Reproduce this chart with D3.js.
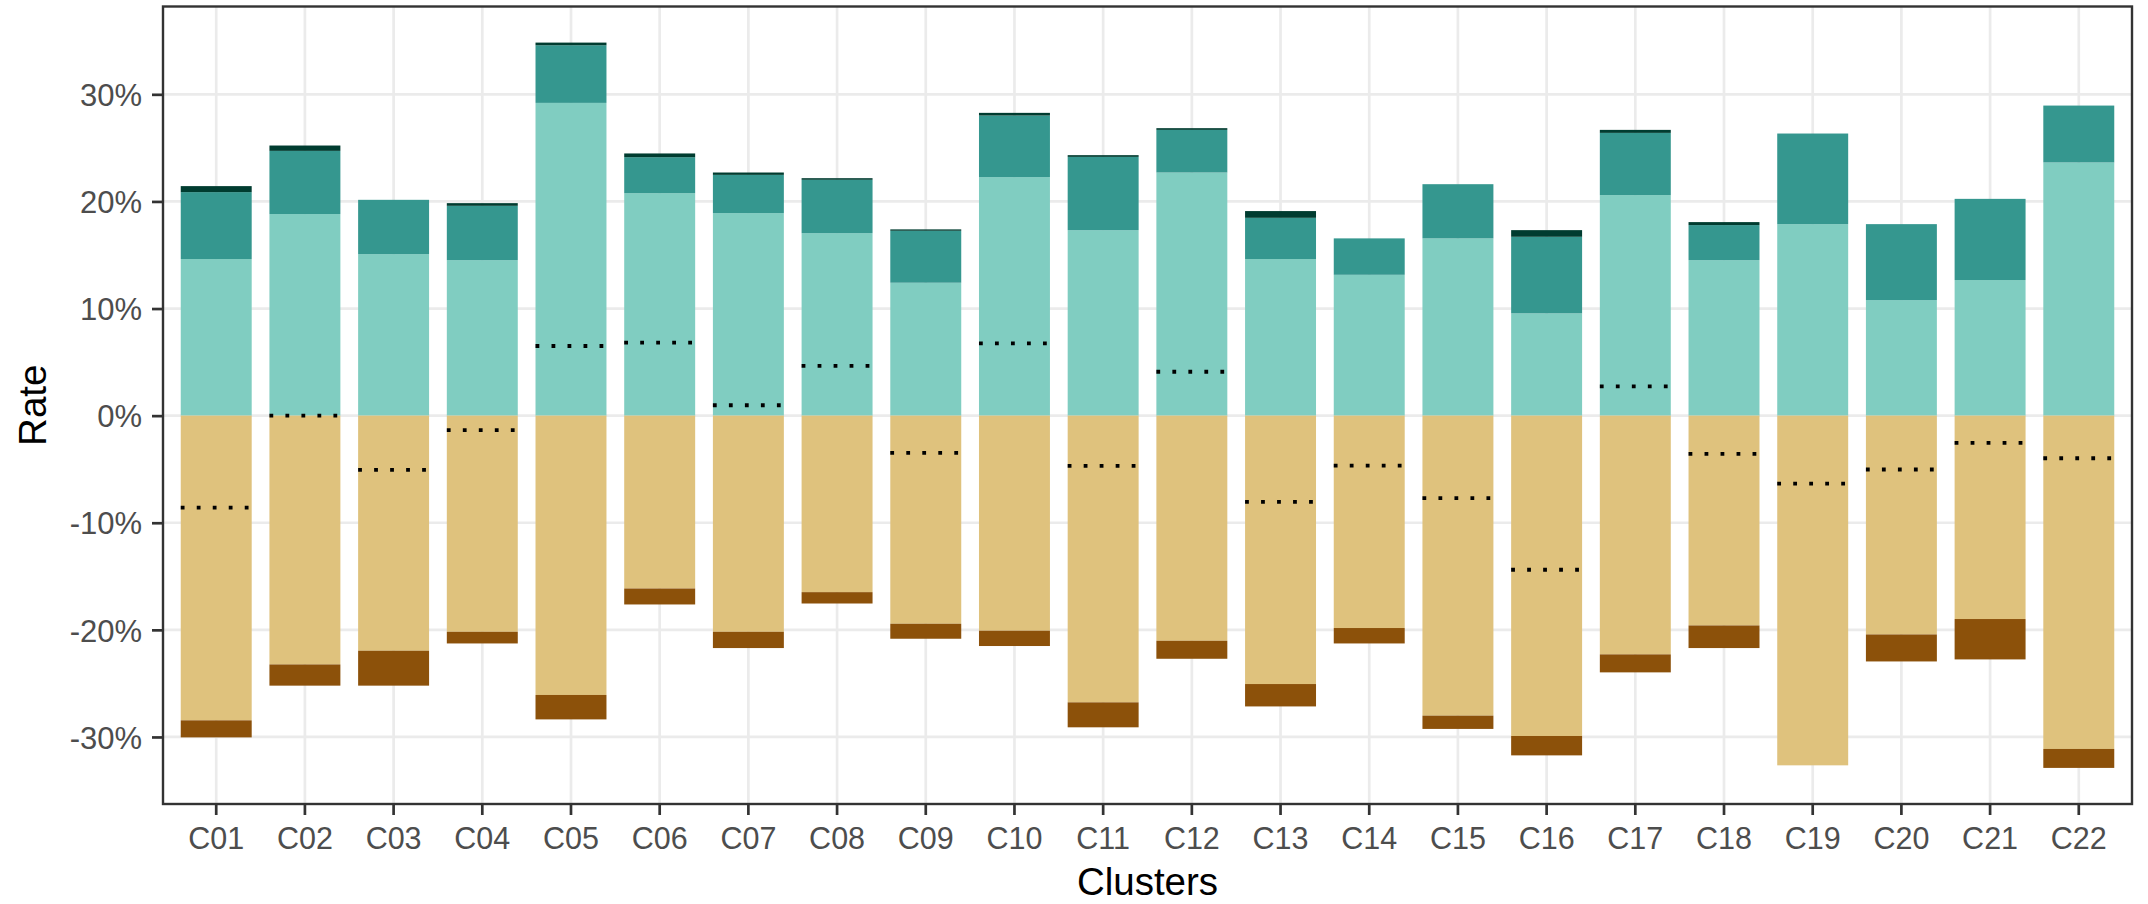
<!DOCTYPE html>
<html>
<head>
<meta charset="utf-8">
<script src="https://cdn.jsdelivr.net/npm/d3@7"></script>
<style>
  html, body { margin: 0; padding: 0; background: #ffffff; }
  svg { display: block; }
</style>
</head>
<body>
<svg id="chart" width="2148" height="904"></svg>
<script>
// ---- data (percent) ----
const clusters = ["C01","C02","C03","C04","C05","C06","C07","C08","C09","C10","C11",
                  "C12","C13","C14","C15","C16","C17","C18","C19","C20","C21","C22"];
const posLight = [14.62,18.82,15.08,14.52,29.20,20.77,18.91,17.04,12.41,22.27,17.32,
                  22.70,14.62,13.15,16.55, 9.55,20.59,14.52,17.88,10.79,12.66,23.64];
const posMid   = [ 6.25, 5.90, 5.07, 5.07, 5.38, 3.36, 3.57, 4.98, 4.85, 5.75, 6.84,
                   3.98, 3.85, 3.40, 5.06, 7.15, 5.81, 3.27, 8.46, 7.09, 7.58, 5.31];
const posDark  = [ 0.56, 0.50, 0.00, 0.25, 0.25, 0.35, 0.22, 0.15, 0.13, 0.25, 0.16,
                   0.16, 0.63, 0.00, 0.00, 0.62, 0.28, 0.28, 0.00, 0.00, 0.00, 0.00];
const negLight = [-28.45,-23.23,-21.95,-20.18,-26.08,-16.14,-20.18,-16.48,-19.43,-20.08,-26.77,
                  -21.02,-25.06,-19.83,-28.01,-29.91,-22.29,-19.59,-32.65,-20.43,-18.99,-31.12];
const negDark  = [ -1.59, -1.98, -3.26, -1.09, -2.28, -1.49, -1.52, -1.06, -1.40, -1.43, -2.33,
                   -1.68, -2.09, -1.44, -1.24, -1.81, -1.68, -2.11,  0.00, -2.52, -3.77, -1.77];
const refLine  = [ -8.58,  0.00, -5.07, -1.36,  6.50,  6.81,  0.97,  4.64, -3.48,  6.75, -4.69,
                    4.10, -8.05, -4.66, -7.71,-14.39,  2.74, -3.57, -6.34, -5.03, -2.55, -3.98];
const yTicks = [-30, -20, -10, 0, 10, 20, 30];
const yTickLabels = ["-30%","-20%","-10%","0%","10%","20%","30%"];

// ---- layout ----
const svg = d3.select("#chart");
const panel = {left: 163, right: 2132, top: 6.5, bottom: 804};
const x = d3.scaleBand().domain(clusters).range([panel.left, panel.right])
  .paddingInner(0.2).paddingOuter(0.2);
const y = d3.scaleLinear().domain([-36.26, 38.2]).range([panel.bottom, panel.top]);

const rows = clusters.map((c, i) => ({
  cluster: c, posLight: posLight[i], posMid: posMid[i], posDark: posDark[i],
  negLight: negLight[i], negDark: negDark[i], ref: refLine[i]
}));
const posKeys = ["posLight", "posMid", "posDark"];
const negKeys = ["negLight", "negDark"];
const colors = {posLight: "#80CDC1", posMid: "#35978F", posDark: "#003C30",
                negLight: "#DFC27D", negDark: "#8C510A"};

const stack = d3.stack().keys(posKeys.concat(negKeys)).offset(d3.stackOffsetDiverging);
const series = stack(rows);

// grid
const grid = svg.append("g");
grid.selectAll("line.h").data(yTicks).join("line")
  .attr("x1", panel.left).attr("x2", panel.right)
  .attr("y1", d => y(d)).attr("y2", d => y(d))
  .attr("stroke", "#EBEBEB").attr("stroke-width", 2.7);
grid.selectAll("line.v").data(clusters).join("line")
  .attr("x1", d => x(d) + x.bandwidth() / 2).attr("x2", d => x(d) + x.bandwidth() / 2)
  .attr("y1", panel.top).attr("y2", panel.bottom)
  .attr("stroke", "#EBEBEB").attr("stroke-width", 2.7);

// bars
const barG = svg.append("g");
series.forEach(s => {
  barG.append("g").attr("fill", colors[s.key])
    .selectAll("rect").data(s).join("rect")
    .attr("x", d => x(d.data.cluster))
    .attr("width", x.bandwidth())
    .attr("y", d => y(Math.max(d[0], d[1])))
    .attr("height", d => Math.abs(y(d[0]) - y(d[1])));
});

// dotted reference lines
svg.append("g").selectAll("line").data(rows).join("line")
  .attr("x1", d => x(d.cluster)).attr("x2", d => x(d.cluster) + x.bandwidth())
  .attr("y1", d => y(d.ref)).attr("y2", d => y(d.ref))
  .attr("stroke", "#000").attr("stroke-width", 3.8)
  .attr("stroke-dasharray", "3.8 12.2");

// panel border
svg.append("rect")
  .attr("x", panel.left).attr("y", panel.top)
  .attr("width", panel.right - panel.left).attr("height", panel.bottom - panel.top)
  .attr("fill", "none").attr("stroke", "#333333").attr("stroke-width", 2.4);

// axes
const yAxis = d3.axisLeft(y).tickValues(yTicks)
  .tickFormat((d, i) => yTickLabels[i]).tickSize(11).tickPadding(10);
const gy = svg.append("g").attr("transform", `translate(${panel.left},0)`).call(yAxis);
gy.select(".domain").remove();
gy.selectAll(".tick line").attr("stroke", "#333333").attr("stroke-width", 2.7);
gy.selectAll(".tick text").attr("fill", "#4D4D4D")
  .style("font-family", "'Liberation Sans', Arial, sans-serif").style("font-size", "31px")
  .attr("dy", "0.36em");

const xAxis = d3.axisBottom(x).tickSize(11).tickPadding(12);
const gx = svg.append("g").attr("transform", `translate(0,${panel.bottom})`).call(xAxis);
gx.select(".domain").remove();
gx.selectAll(".tick line").attr("stroke", "#333333").attr("stroke-width", 2.7);
gx.selectAll(".tick text").attr("fill", "#4D4D4D")
  .style("font-family", "'Liberation Sans', Arial, sans-serif").style("font-size", "30.5px")
  .attr("dy", "0.71em");

// titles
svg.append("text").text("Clusters")
  .attr("x", (panel.left + panel.right) / 2).attr("y", 895)
  .attr("text-anchor", "middle").attr("fill", "#000")
  .style("font-family", "'Liberation Sans', Arial, sans-serif").style("font-size", "38.5px");
svg.append("text").text("Rate")
  .attr("transform", `translate(45.5,${(panel.top + panel.bottom) / 2}) rotate(-90)`)
  .attr("text-anchor", "middle").attr("fill", "#000")
  .style("font-family", "'Liberation Sans', Arial, sans-serif").style("font-size", "38.5px");
</script>
</body>
</html>
